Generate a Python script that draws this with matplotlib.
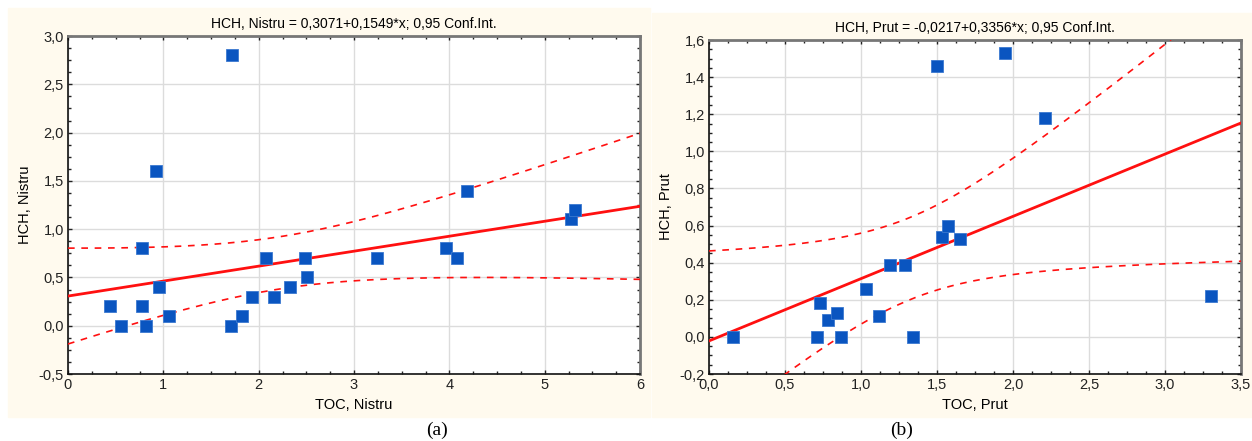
import numpy as np
import matplotlib.pyplot as plt
from matplotlib.patches import Rectangle
from matplotlib.ticker import FuncFormatter, AutoMinorLocator, MultipleLocator

# panel (a): Nistru
toc_nistru = [0.44, 0.56, 0.78, 0.78, 0.82, 0.92, 0.95, 1.06, 1.72, 1.71, 1.83, 1.93,
              2.08, 2.16, 2.33, 2.49, 2.51, 3.24, 3.97, 4.08, 4.19, 5.28, 5.32]
hch_nistru = [0.2, 0.0, 0.8, 0.2, 0.0, 1.6, 0.4, 0.1, 2.8, 0.0, 0.1, 0.3,
              0.7, 0.3, 0.4, 0.7, 0.5, 0.7, 0.8, 0.7, 1.4, 1.1, 1.2]
coef_nistru = (0.3071, 0.1549)
t_nistru = 2.080  # t(0.975, df=21)

# panel (b): Prut
toc_prut = [0.16, 0.71, 0.73, 0.785, 0.84, 0.87, 1.03, 1.12, 1.19, 1.29, 1.34, 1.50,
            1.53, 1.57, 1.65, 1.95, 2.21, 3.30]
hch_prut = [0.0, 0.0, 0.18, 0.09, 0.13, 0.0, 0.26, 0.11, 0.39, 0.39, 0.0, 1.46,
            0.54, 0.60, 0.53, 1.53, 1.18, 0.22]
coef_prut = (-0.0217, 0.3356)
t_prut = 2.120  # t(0.975, df=16)

cream = '#fffaee'
blue = '#0a55c0'
red = '#ff1010'

plt.rcParams['font.family'] = ['Liberation Sans', 'DejaVu Sans']

fig = plt.figure(figsize=(12.52, 4.41), dpi=100)
fig.patches.append(Rectangle((8 / 1252, 24 / 441), 642 / 1252, 409 / 441,
                             transform=fig.transFigure, color=cream, zorder=-10))
fig.patches.append(Rectangle((652 / 1252, 24 / 441), 600 / 1252, 404 / 441,
                             transform=fig.transFigure, color=cream, zorder=-10))


def comma(v, pos, nd):
    return f'{v:.{nd}f}'.replace('.', ',')


def panel(rect, x, y, coef, tval, xlim, ylim, xstep, ystep, xnd, title, xlabel, ylabel):
    ax = fig.add_axes(rect)
    x = np.asarray(x)
    y = np.asarray(y)
    b0, b1 = coef
    n = len(x)
    resid = y - (b0 + b1 * x)
    s = np.sqrt(np.sum(resid ** 2) / (n - 2))
    sxx = np.sum((x - x.mean()) ** 2)
    xx = np.linspace(xlim[0], xlim[1], 200)
    yy = b0 + b1 * xx
    half = tval * s * np.sqrt(1 / n + (xx - x.mean()) ** 2 / sxx)

    ax.plot(xx, yy, color=red, lw=2.0, zorder=3)
    ax.plot(xx, yy + half, color=red, lw=1.2, ls=(0, (4, 4)), zorder=3)
    ax.plot(xx, yy - half, color=red, lw=1.2, ls=(0, (4, 4)), zorder=3)
    ax.plot(x, y, 's', color=blue, ms=8.5, mec='#3a78d0', mew=0.6, zorder=4)

    ax.set_xlim(xlim)
    ax.set_ylim(ylim)
    ax.xaxis.set_major_locator(MultipleLocator(xstep))
    ax.yaxis.set_major_locator(MultipleLocator(ystep))
    ax.xaxis.set_minor_locator(AutoMinorLocator(4))
    ax.yaxis.set_minor_locator(AutoMinorLocator(4))
    ax.xaxis.set_major_formatter(FuncFormatter(lambda v, p: comma(v, p, xnd)))
    ax.yaxis.set_major_formatter(FuncFormatter(lambda v, p: comma(v, p, 1)))
    ax.grid(True, which='major', color='#dcdcdc', lw=1.0)
    ax.set_axisbelow(True)
    ax.tick_params(which='both', direction='in', top=True, right=True,
                   labelsize=10.5, colors='#222222', pad=3)
    ax.tick_params(which='major', length=3, width=1)
    ax.tick_params(which='minor', length=2, width=1)
    for side in ('left', 'bottom'):
        ax.spines[side].set_color('#111111')
        ax.spines[side].set_linewidth(1.2)
    for side in ('top', 'right'):
        ax.spines[side].set_color('#777777')
        ax.spines[side].set_linewidth(2.0)
    ax.set_title(title, fontsize=10, pad=6)
    ax.set_xlabel(xlabel, fontsize=10.5, labelpad=4)
    ax.set_ylabel(ylabel, fontsize=10.5, labelpad=5)
    return ax


panel([68 / 1252, 67 / 441, 572 / 1252, 338 / 441], toc_nistru, hch_nistru,
      coef_nistru, t_nistru, (0, 6), (-0.5, 3.0), 1, 0.5, 0,
      'HCH, Nistru = 0,3071+0,1549*x; 0,95 Conf.Int.', 'TOC, Nistru', 'HCH, Nistru')
panel([709 / 1252, 67 / 441, 532 / 1252, 334 / 441], toc_prut, hch_prut,
      coef_prut, t_prut, (0, 3.5), (-0.2, 1.6), 0.5, 0.2, 1,
      'HCH, Prut = -0,0217+0,3356*x; 0,95 Conf.Int.', 'TOC, Prut', 'HCH, Prut')

fig.text(437 / 1252, 1 - 430 / 441, '(a)', ha='center', va='center',
         fontsize=14, family=['Liberation Serif', 'DejaVu Serif'])
fig.text(902 / 1252, 1 - 430 / 441, '(b)', ha='center', va='center',
         fontsize=14, family=['Liberation Serif', 'DejaVu Serif'])

fig.savefig('out.png', dpi=100)
